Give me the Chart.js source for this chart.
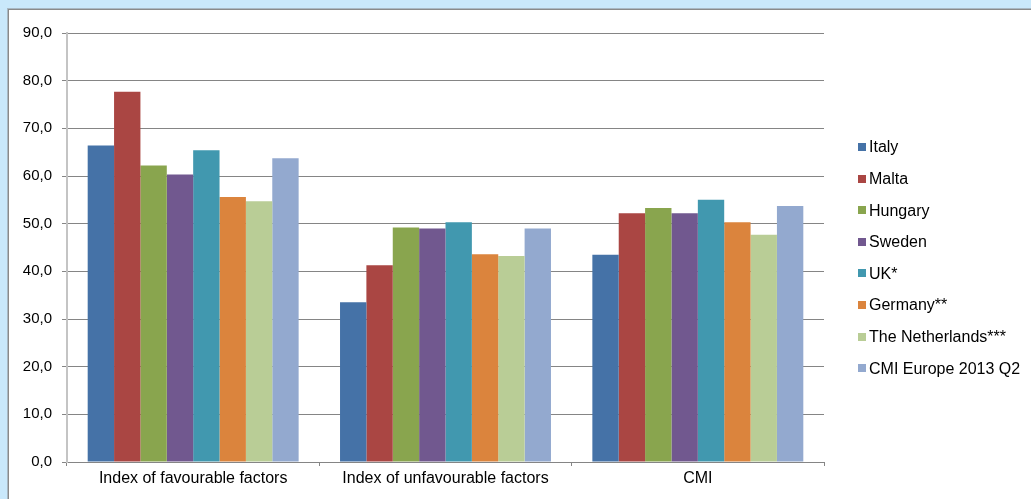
<!DOCTYPE html>
<html>
<head>
<meta charset="utf-8">
<script src="https://cdn.jsdelivr.net/npm/chart.js@4/dist/chart.umd.min.js"></script>
<style>
  html, body { margin: 0; padding: 0; background: #c9e8fb; }
  #wrap { position: absolute; left: 0; top: 0; width: 1031px; height: 499px; }
</style>
</head>
<body>
<div id="wrap"><canvas id="c" width="1031" height="499"></canvas></div>
<script>
// Index values per country, one value per category
const categories = ['Index of favourable factors', 'Index of unfavourable factors', 'CMI'];
const seriesNames = ['Italy', 'Malta', 'Hungary', 'Sweden', 'UK*', 'Germany**', 'The Netherlands***', 'CMI Europe 2013 Q2'];
const italy       = [66.4, 33.5, 43.5];
const malta       = [77.7, 41.3, 52.2];
const hungary     = [62.2, 49.2, 53.3];
const sweden      = [60.3, 49.0, 52.2];
const uk          = [65.4, 50.3, 55.0];
const germany     = [55.6, 43.6, 50.3];
const netherlands = [54.7, 43.2, 47.7];
const cmiEurope   = [63.7, 49.0, 53.7];
const yTicks      = [0, 10, 20, 30, 40, 50, 60, 70, 80, 90];

const seriesValues = [italy, malta, hungary, sweden, uk, germany, netherlands, cmiEurope];
const seriesColors = ['#4572a7', '#aa4643', '#89a54e', '#71588f', '#4198af', '#db843d', '#b9cd96', '#93a9cf'];

const FONT = "'Liberation Sans', Arial, sans-serif";

// Frame: light blue surround with a white panel and grey top/left edge
const framePlugin = {
  id: 'frame',
  beforeDraw(chart) {
    const ctx = chart.ctx;
    ctx.save();
    ctx.fillStyle = '#c9e8fb';
    ctx.fillRect(0, 0, chart.width, chart.height);
    ctx.fillStyle = '#a8b8c4';
    ctx.fillRect(7, 8, chart.width - 7, 1);
    ctx.fillRect(7, 8, 1, chart.height - 8);
    ctx.fillStyle = '#8a8a8a';
    ctx.fillRect(8, 9, chart.width - 8, 1);
    ctx.fillRect(8, 9, 1, chart.height - 9);
    ctx.fillStyle = '#ffffff';
    ctx.fillRect(9, 10, chart.width - 9, chart.height - 10);
    ctx.restore();
  }
};

// Legend on the right, built from the datasets
const sideLegend = {
  id: 'sideLegend',
  afterDraw(chart) {
    const ctx = chart.ctx;
    ctx.save();
    ctx.font = '16px ' + FONT;
    ctx.textBaseline = 'middle';
    ctx.textAlign = 'left';
    chart.data.datasets.forEach((ds, i) => {
      const cy = 147 + i * 31.6;
      ctx.fillStyle = ds.backgroundColor;
      ctx.fillRect(858, Math.round(cy) - 4, 8, 8);
      ctx.fillStyle = '#000000';
      ctx.fillText(ds.label, 869, cy + 1);
    });
    ctx.restore();
  }
};

new Chart(document.getElementById('c'), {
  type: 'bar',
  data: {
    labels: categories,
    datasets: seriesNames.map((name, i) => ({
      label: name,
      data: seriesValues[i],
      backgroundColor: seriesColors[i],
      borderWidth: 0,
      barPercentage: 1.0,
      categoryPercentage: 0.836
    }))
  },
  options: {
    responsive: false,
    animation: false,
    events: [],
    layout: { padding: { left: 0, right: 207, top: 33, bottom: 0 } },
    plugins: {
      legend: { display: false },
      tooltip: { enabled: false },
      title: { display: false }
    },
    scales: {
      x: {
        grid: {
          display: true,
          drawOnChartArea: false,
          drawTicks: true,
          tickLength: 4,
          color: '#858585',
          offset: true
        },
        border: { display: true, color: '#858585', width: 1 },
        ticks: {
          color: '#000000',
          font: { family: FONT, size: 16 },
          padding: 3,
          maxRotation: 0,
          autoSkip: false
        },
        afterFit(scale) { scale.height = 37; }
      },
      y: {
        min: 0,
        max: 90,
        afterBuildTicks(scale) { scale.ticks = yTicks.map(v => ({ value: v })); },
        grid: {
          color: '#858585',
          lineWidth: 1,
          drawTicks: true,
          tickLength: 5
        },
        border: { display: true, color: '#c4c4c4', width: 2 },
        ticks: {
          color: '#000000',
          font: { family: FONT, size: 15 },
          padding: 10,
          callback: v => Number(v).toFixed(1).replace('.', ',')
        },
        afterFit(scale) { scale.width = 67; }
      }
    }
  },
  plugins: [framePlugin, sideLegend]
});
</script>
</body>
</html>
